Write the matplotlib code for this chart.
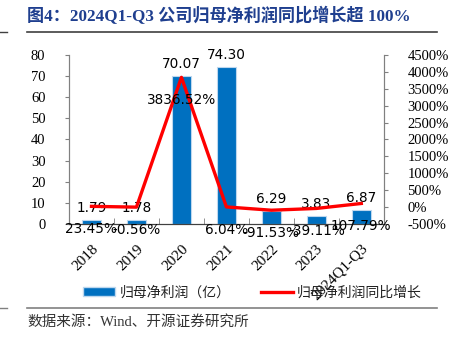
import numpy as np
import matplotlib.pyplot as plt
from matplotlib.lines import Line2D
from matplotlib.patches import Patch

plt.rcParams['font.family'] = ['Liberation Serif', 'Noto Sans CJK SC']

years = ['2018', '2019', '2020', '2021', '2022', '2023', '2024Q1-Q3']
profit = [1.79, 1.78, 70.07, 74.30, 6.29, 3.83, 6.87]          # 归母净利润（亿）
growth = [23.45, -0.56, 3836.52, 6.04, -91.53, -39.11, 107.79]  # 同比增长 %

navy = '#1F3F8F'
blue = '#0070C0'
red = '#FF0000'

fig = plt.figure(figsize=(4.51, 3.41), dpi=100)
ax = fig.add_axes([0.153, 0.343, 0.698, 0.496])
ax2 = ax.twinx()

x = np.arange(len(years))
ax.bar(x, profit, width=0.42, color=blue, edgecolor='#BDD7EE', linewidth=0.8, zorder=2)
ax.set_ylim(0, 80)
ax.set_yticks(range(0, 81, 10))
ax.set_xlim(-0.5, len(years) - 0.5)
ax.set_xticks(x)
ax.set_xticklabels(years, rotation=45, ha='right', va='top', rotation_mode='anchor',
                   fontsize=11)
ax.tick_params(axis='x', length=0, pad=13)
ax.set_xticks(np.arange(-0.5, len(years) + 0.5, 1), minor=True)
ax.tick_params(axis='x', which='minor', length=4, direction='in', color='#808080')
ax.tick_params(axis='y', labelsize=10.5, length=3, color='#808080', pad=14)

ax2.plot(x, growth, color=red, linewidth=2.4, zorder=3)
ax2.set_ylim(-500, 4500)
ax2.set_yticks(range(-500, 4501, 500))
ax2.set_yticklabels([f'{v}%' for v in range(-500, 4501, 500)])
ax2.tick_params(axis='y', labelsize=10.5, length=3, color='#808080', pad=14)

for a in (ax, ax2):
    a.spines['top'].set_visible(False)
    a.spines['left'].set_color('#808080')
    a.spines['right'].set_color('#808080')
    a.spines['bottom'].set_color('#404040')

# value labels
for xi, v in zip(x, profit):
    ax.annotate(f'{v:.2f}', (xi, v), xytext=(0, 5), textcoords='offset pixels',
                ha='center', va='bottom', fontsize=9.8, family='DejaVu Sans', zorder=5)
for xi, g in zip(x, growth):
    ax2.annotate(f'{g:.2f}%', (xi, g), xytext=(0, -16), textcoords='offset pixels',
                 ha='center', va='top', fontsize=9.8, family='DejaVu Sans', zorder=5)

handles = [Patch(facecolor=blue, edgecolor='#BDD7EE'),
           Line2D([0], [0], color=red, linewidth=2.4)]
fig.legend(handles, ['归母净利润（亿）', '归母净利润同比增长'], ncol=2,
           loc='center', bbox_to_anchor=(0.56, 0.143), frameon=False,
           prop={'family': 'Noto Sans CJK SC', 'size': 10, 'weight': 'light'},
           handlelength=2.3, handleheight=0.6, columnspacing=2.2, handletextpad=0.3,
           labelcolor='#222222')

fig.text(0.06, 0.953, '图4：2024Q1-Q3 公司归母净利润同比增长超 100%', fontsize=12.3,
         fontweight='bold', color=navy, va='center')
fig.text(0.06, 0.055, '数据来源：Wind、开源证券研究所', fontsize=10.5, color='#333333',
         va='center', family=['Liberation Serif', 'Noto Sans CJK SC'])

fig.add_artist(Line2D([0.06, 0.969], [0.906, 0.906], color='#404040', linewidth=1.2))
fig.add_artist(Line2D([0, 0.016], [0.906, 0.906], color='#404040', linewidth=1.0))
fig.add_artist(Line2D([0.06, 0.969], [0.097, 0.097], color='#808080', linewidth=1.2))
fig.add_artist(Line2D([0, 0.016], [0.097, 0.097], color='#808080', linewidth=1.0))

fig.savefig('out.png', dpi=100)
